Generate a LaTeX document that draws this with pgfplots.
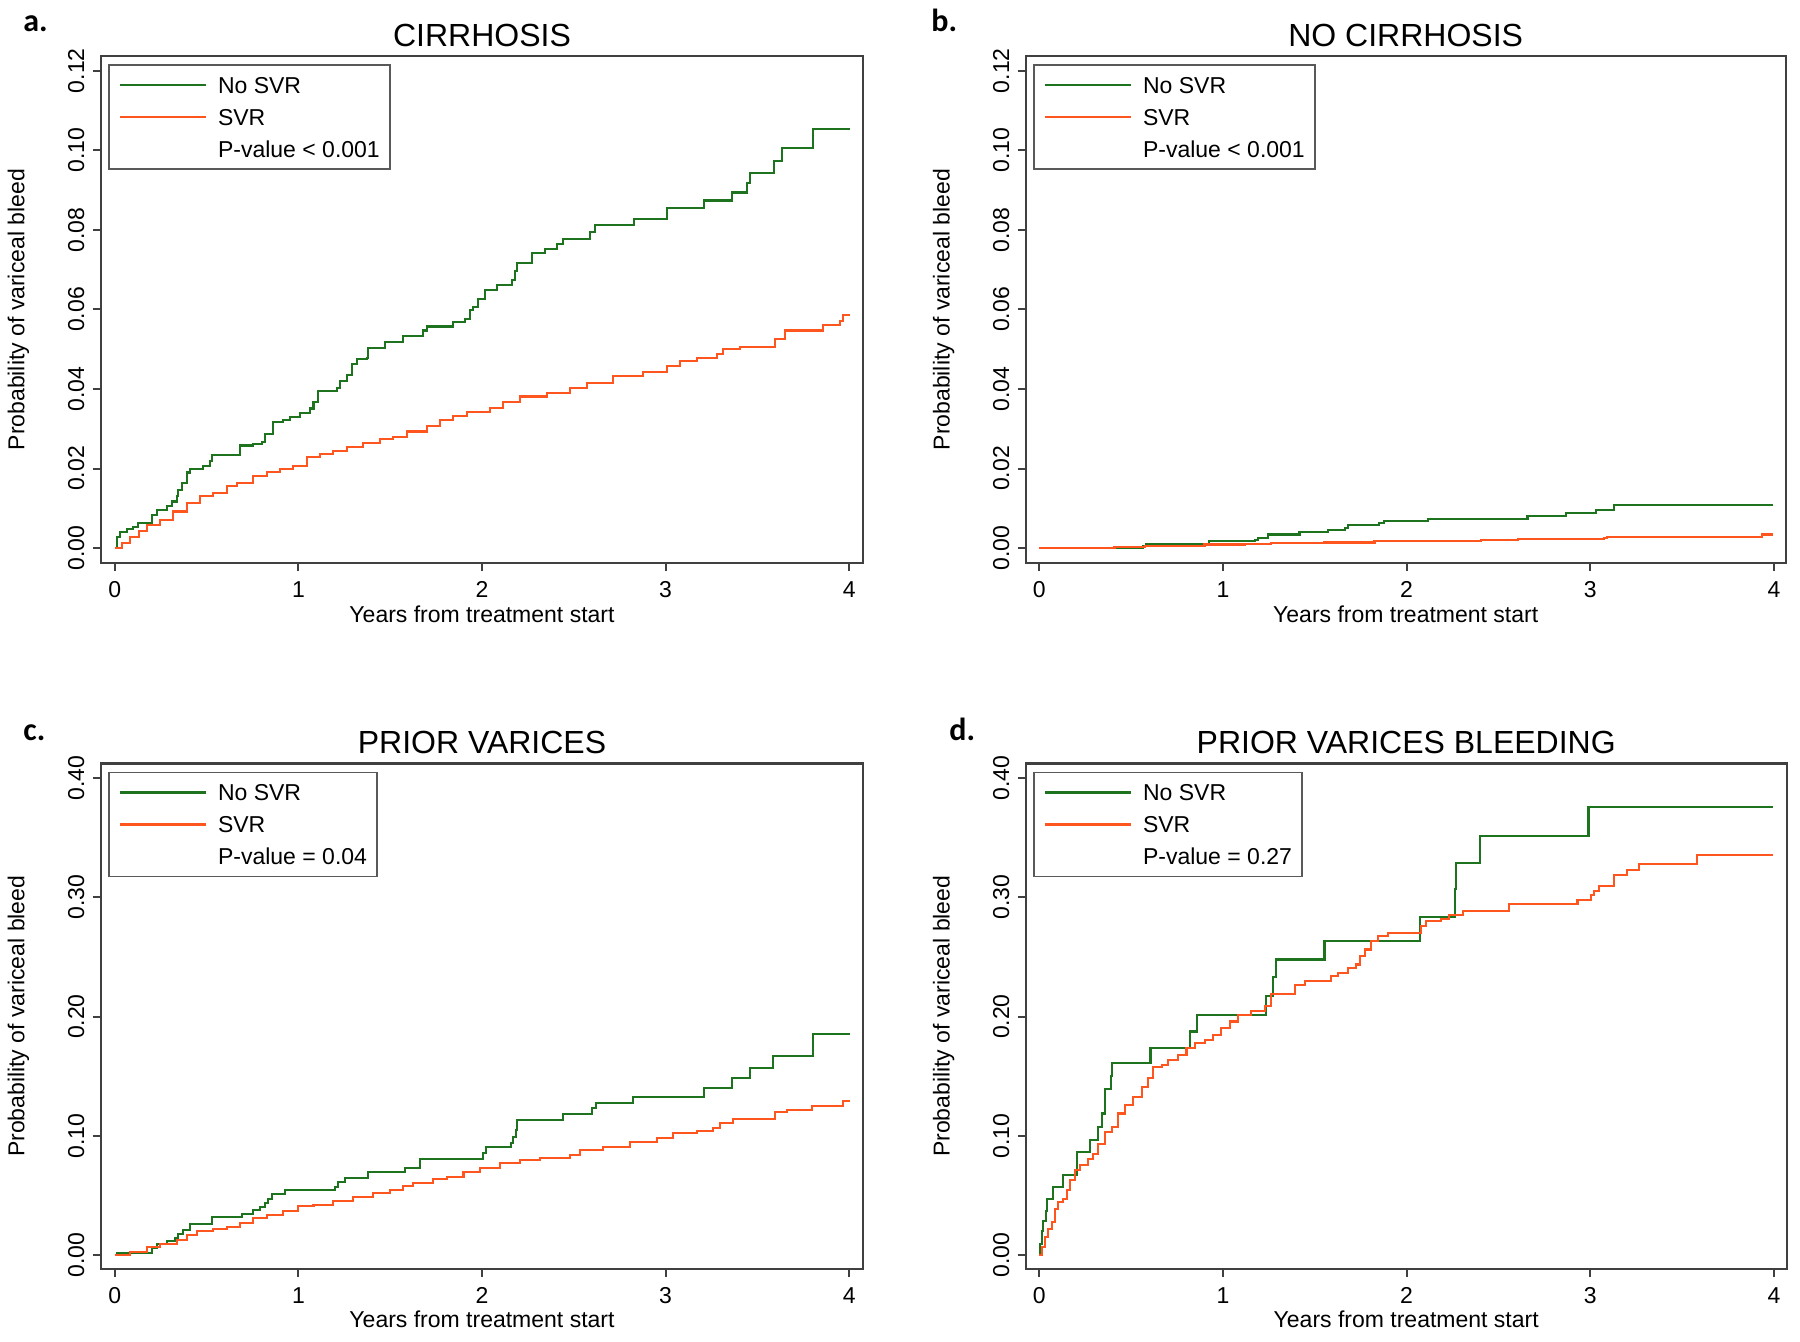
\documentclass[border=0pt]{standalone}
\usepackage{pgfplots}
\pgfplotsset{compat=1.18}
\usepackage{fontspec}
\setmainfont{Liberation Sans}
\newfontfamily\letterfont{Carlito}
\definecolor{kmgreen}{RGB}{30,115,30}
\definecolor{kmorange}{RGB}{255,85,30}
\pgfplotsset{
  km/.style={
    scale only axis,
    axis line style={draw=black!75, line width=1.1pt},
    tick style={draw=black!75, line width=1pt},
    major tick length=4pt,
    tick align=outside,
    xtick pos=bottom, ytick pos=left,
    xtick={0,1,2,3,4},
    /pgf/number format/assume math mode=true,
    tick label style={font=\fontsize{11.5}{13}\selectfont},
    xticklabel style={anchor=base},
    xticklabel shift=13.4pt,
    yticklabel style={rotate=90, anchor=base,
      /pgf/number format/fixed, /pgf/number format/fixed zerofill, /pgf/number format/precision=2},
    yticklabel shift=4.25pt,
    scaled y ticks=false,
    xlabel={Years from treatment start},
    ylabel={Probability of variceal bleed},
    every axis x label/.style={at={(axis description cs:0.5,0)}, anchor=base, yshift=-29.5pt, font=\fontsize{11.5}{13}\selectfont},
    every axis y label/.style={at={(axis description cs:-0.1,0.5)}, rotate=90, anchor=base, font=\fontsize{11.5}{13}\selectfont},
    every axis title/.style={at={(axis description cs:0.5,1)}, anchor=base, font=\fontsize{16}{19}\selectfont},
    legend cell align=left,
    legend style={
      at={(axis description cs:0,1)}, anchor=north west, xshift=3.8pt, yshift=-4.15pt,
      draw=black!65, line width=0.75pt, fill=white,
      inner xsep=5pt, inner ysep=4.6pt,
      font=\fontsize{11.5}{13}\selectfont,
      row sep=5.2pt, column sep=5.6pt,
      nodes={inner sep=0pt, text height=9.5pt, text depth=1.3pt},
    },
  },
  nosvr/.style={const plot, color=kmgreen, line width=1.05pt,
    legend image code/.code={\draw[##1] (0pt,0pt) -- (42.85pt,0pt);}},
  svr/.style={const plot, color=kmorange, line width=1.05pt,
    legend image code/.code={\draw[##1] (0pt,0pt) -- (42.85pt,0pt);}},
}
\begin{document}
\begin{tikzpicture}
\path[use as bounding box] (0,0) rectangle (900pt,671pt);
% ---------------- a ----------------
\begin{axis}[km, at={(50.35pt,389.4pt)}, anchor=south west,
  width=381.3pt, height=253.55pt,
  xmin=-0.0768, xmax=4.0768, ymin=-0.0038, ymax=0.1237,
  ytick={0,0.02,0.04,0.06,0.08,0.10,0.12},
  title={CIRRHOSIS}, title style={yshift=4.75pt}]
\addplot[nosvr] coordinates {(0,0) (0.010,0.0028) (0.028,0.0041) (0.065,0.0047) (0.101,0.0054) (0.128,0.0062) (0.201,0.0083) (0.228,0.0096) (0.283,0.0105) (0.310,0.0117) (0.337,0.0130) (0.346,0.0147) (0.365,0.0164) (0.392,0.0190) (0.410,0.0198) (0.482,0.0207) (0.518,0.0219) (0.528,0.0234) (0.682,0.0258) (0.755,0.0262) (0.800,0.0266) (0.818,0.0287) (0.863,0.0317) (0.918,0.0322) (0.954,0.0330) (1.009,0.0339) (1.063,0.0351) (1.082,0.0368) (1.109,0.0394) (1.208,0.0402) (1.226,0.0419) (1.263,0.0436) (1.290,0.0462) (1.317,0.0475) (1.372,0.0479) (1.381,0.0504) (1.471,0.0517) (1.571,0.0534) (1.680,0.0547) (1.699,0.0557) (1.844,0.0568) (1.908,0.0577) (1.935,0.0598) (1.953,0.0606) (1.980,0.0626) (2.016,0.0649) (2.080,0.0662) (2.162,0.0674) (2.180,0.0696) (2.189,0.0717) (2.271,0.0741) (2.343,0.0753) (2.407,0.0764) (2.443,0.0778) (2.588,0.0795) (2.615,0.0812) (2.828,0.0828) (3.006,0.0855) (3.211,0.0874) (3.360,0.0894) (3.442,0.0917) (3.460,0.0942) (3.591,0.0974) (3.636,0.1006) (3.805,0.1053) (4.004,0.1053)};
\addlegendentry{No SVR}
\addplot[svr] coordinates {(0,0) (0.040,0.0013) (0.083,0.0028) (0.130,0.0043) (0.174,0.0058) (0.246,0.0071) (0.319,0.0092) (0.392,0.0113) (0.464,0.0130) (0.537,0.0139) (0.609,0.0156) (0.664,0.0164) (0.755,0.0181) (0.827,0.0191) (0.900,0.0198) (0.972,0.0207) (1.045,0.0228) (1.118,0.0236) (1.190,0.0245) (1.263,0.0253) (1.354,0.0264) (1.444,0.0274) (1.517,0.0280) (1.590,0.0293) (1.699,0.0306) (1.771,0.0321) (1.844,0.0333) (1.917,0.0342) (2.044,0.0353) (2.116,0.0368) (2.207,0.0381) (2.352,0.0390) (2.479,0.0402) (2.570,0.0415) (2.715,0.0432) (2.879,0.0443) (3.006,0.0458) (3.078,0.0470) (3.169,0.0479) (3.278,0.0487) (3.314,0.0500) (3.405,0.0506) (3.595,0.0526) (3.650,0.0547) (3.859,0.0560) (3.950,0.0572) (3.968,0.0585) (4.004,0.0585)};
\addlegendentry{SVR}
\addlegendimage{empty legend}
\addlegendentry{P-value < 0.001}
\end{axis}
% ---------------- b ----------------
\begin{axis}[km, at={(512.85pt,389.4pt)}, anchor=south west,
  width=380pt, height=253.55pt,
  xmin=-0.0735, xmax=4.0637, ymin=-0.0038, ymax=0.1237,
  ytick={0,0.02,0.04,0.06,0.08,0.10,0.12},
  title={NO CIRRHOSIS}, title style={yshift=4.75pt}]
\addplot[nosvr] coordinates {(0,0) (0.566,0.0006) (0.584,0.0011) (0.923,0.0017) (1.173,0.0021) (1.191,0.0026) (1.245,0.0034) (1.417,0.0040) (1.571,0.0045) (1.664,0.0051) (1.682,0.0057) (1.852,0.0064) (1.879,0.0068) (2.115,0.0072) (2.658,0.0081) (2.867,0.0089) (3.030,0.0096) (3.130,0.0109) (3.994,0.0109)};
\addlegendentry{No SVR}
\addplot[svr] coordinates {(0,0) (0.410,0.0003) (0.575,0.0006) (0.900,0.0009) (1.118,0.0011) (1.263,0.0013) (1.553,0.0014) (1.825,0.0017) (2.405,0.0020) (2.605,0.0022) (3.075,0.0026) (3.093,0.0028) (3.936,0.0034) (3.994,0.0034)};
\addlegendentry{SVR}
\addlegendimage{empty legend}
\addlegendentry{P-value < 0.001}
\end{axis}
% ---------------- c ----------------
\begin{axis}[km, at={(50.35pt,36.5pt)}, anchor=south west,
  width=381.3pt, height=252.75pt,
  xmin=-0.0768, xmax=4.0768, ymin=-0.0117, ymax=0.4123,
  ytick={0,0.1,0.2,0.3,0.4},
  title={PRIOR VARICES}, title style={yshift=5.15pt}]
\addplot[nosvr] coordinates {(0,0) (0.014,0.0020) (0.201,0.0056) (0.228,0.0092) (0.283,0.0117) (0.328,0.0140) (0.346,0.0176) (0.373,0.0210) (0.410,0.0257) (0.528,0.0316) (0.691,0.0344) (0.755,0.0378) (0.791,0.0406) (0.818,0.0439) (0.836,0.0467) (0.854,0.0509) (0.927,0.0545) (1.199,0.0573) (1.217,0.0615) (1.254,0.0649) (1.381,0.0697) (1.581,0.0727) (1.663,0.0808) (2.007,0.0859) (2.021,0.0903) (2.156,0.0943) (2.171,0.0993) (2.183,0.1049) (2.192,0.1130) (2.443,0.1183) (2.597,0.1231) (2.620,0.1273) (2.824,0.1329) (3.211,0.1399) (3.360,0.1483) (3.459,0.1566) (3.587,0.1673) (3.805,0.1855) (4.004,0.1855)};
\addlegendentry{No SVR}
\addplot[svr] coordinates {(0,0) (0.083,0.0028) (0.174,0.0064) (0.246,0.0092) (0.337,0.0126) (0.392,0.0168) (0.446,0.0204) (0.537,0.0215) (0.609,0.0238) (0.682,0.0266) (0.755,0.0313) (0.827,0.0336) (0.918,0.0372) (1.000,0.0411) (1.082,0.0420) (1.190,0.0456) (1.299,0.0484) (1.408,0.0523) (1.499,0.0545) (1.571,0.0579) (1.626,0.0607) (1.735,0.0635) (1.808,0.0657) (1.899,0.0697) (1.989,0.0727) (2.098,0.0769) (2.207,0.0797) (2.316,0.0811) (2.479,0.0839) (2.534,0.0881) (2.661,0.0909) (2.806,0.0951) (2.951,0.0979) (3.042,0.1021) (3.169,0.1043) (3.260,0.1063) (3.296,0.1110) (3.369,0.1138) (3.595,0.1197) (3.659,0.1217) (3.795,0.1253) (3.968,0.1295) (4.004,0.1295)};
\addlegendentry{SVR}
\addlegendimage{empty legend}
\addlegendentry{P-value = 0.04}
\end{axis}
% ---------------- d ----------------
\begin{axis}[km, at={(512.85pt,36.5pt)}, anchor=south west,
  width=380.5pt, height=252.75pt,
  xmin=-0.0735, xmax=4.069, ymin=-0.0117, ymax=0.4123,
  ytick={0,0.1,0.2,0.3,0.4},
  title={PRIOR VARICES BLEEDING}, title style={yshift=5.15pt}]
\addplot[nosvr] coordinates {(0,0) (0.004,0.0093) (0.013,0.0205) (0.022,0.0289) (0.035,0.0373) (0.041,0.0472) (0.077,0.0570) (0.131,0.0674) (0.204,0.0865) (0.276,0.0968) (0.318,0.1075) (0.340,0.1187) (0.358,0.1389) (0.390,0.1502) (0.397,0.1614) (0.606,0.1735) (0.823,0.1875) (0.861,0.2015) (1.236,0.2170) (1.272,0.2333) (1.290,0.2479) (1.553,0.2633) (2.073,0.2838) (2.263,0.3068) (2.267,0.3287) (2.401,0.3512) (2.990,0.3761) (3.994,0.3761)};
\addlegendentry{No SVR}
\addplot[svr] coordinates {(0,0) (0.014,0.0065) (0.032,0.0149) (0.050,0.0219) (0.068,0.0275) (0.086,0.0387) (0.104,0.0444) (0.131,0.0472) (0.149,0.0542) (0.167,0.0626) (0.194,0.0710) (0.222,0.0752) (0.267,0.0808) (0.294,0.0851) (0.321,0.0935) (0.358,0.1033) (0.394,0.1075) (0.431,0.1187) (0.467,0.1258) (0.512,0.1328) (0.558,0.1412) (0.594,0.1482) (0.621,0.1575) (0.666,0.1594) (0.702,0.1637) (0.757,0.1679) (0.802,0.1735) (0.847,0.1777) (0.901,0.1805) (0.947,0.1847) (0.992,0.1903) (1.037,0.1959) (1.082,0.2015) (1.155,0.2044) (1.227,0.2086) (1.264,0.2192) (1.391,0.2268) (1.445,0.2296) (1.589,0.2338) (1.626,0.2366) (1.681,0.2408) (1.726,0.2437) (1.744,0.2507) (1.771,0.2563) (1.807,0.2633) (1.843,0.2675) (1.897,0.2703) (2.079,0.2759) (2.106,0.2801) (2.188,0.2815) (2.233,0.2849) (2.305,0.2886) (2.559,0.2942) (2.930,0.2978) (3.003,0.3018) (3.021,0.3054) (3.048,0.3096) (3.130,0.3186) (3.202,0.3228) (3.266,0.3279) (3.579,0.3357) (3.994,0.3357)};
\addlegendentry{SVR}
\addlegendimage{empty legend}
\addlegendentry{P-value = 0.27}
\end{axis}
% panel letters
\node[anchor=base west, inner sep=0pt, font=\letterfont\bfseries\fontsize{16}{19}\selectfont] at (11.5pt,655pt) {a.};
\node[anchor=base west, inner sep=0pt, font=\letterfont\bfseries\fontsize{16}{19}\selectfont] at (465.5pt,655pt) {b.};
\node[anchor=base west, inner sep=0pt, font=\letterfont\bfseries\fontsize{16}{19}\selectfont] at (11.5pt,300.5pt) {c.};
\node[anchor=base west, inner sep=0pt, font=\letterfont\bfseries\fontsize{16}{19}\selectfont] at (474.5pt,300.5pt) {d.};
\end{tikzpicture}
\end{document}
